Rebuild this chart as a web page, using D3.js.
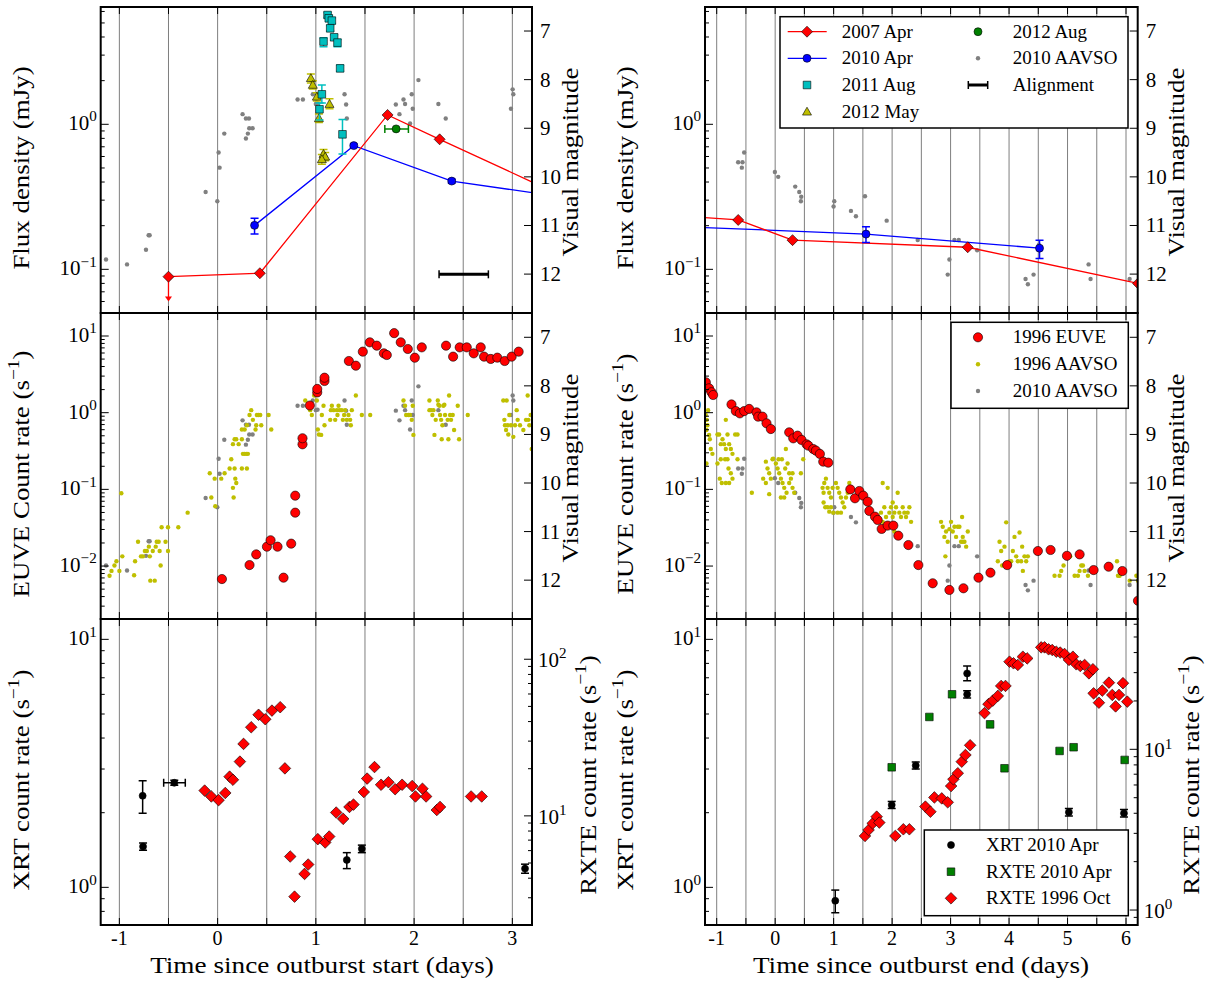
<!DOCTYPE html>
<html><head><meta charset="utf-8">
<script src="https://cdn.jsdelivr.net/npm/d3@7"></script>
<style>body{margin:0;background:#fff}svg{display:block}text{font-family:"Liberation Serif","DejaVu Serif",serif}</style>
</head><body>
<script>
// ---------------- DATA ----------------
// Top-left: flux density (mJy) vs time since outburst start (days)
const apr2007Start = [[-0.50,0.089],[0.43,0.094],[1.73,1.16],[2.26,0.788],[3.60,0.300]];
const apr2007StartLimit = [[-0.50,0.089,0.060]];
const apr2010Start = [[0.376,0.201,0.175,0.225],[1.386,0.713,0.695,0.732],[2.383,0.406,0.394,0.418],[4.50,0.252,0.252,0.252]];
const aug2011Start = [[1.119,5.67,5.45,5.9],[1.132,5.38,5.15,5.6],[1.163,5.19,4.95,5.4],[1.146,4.59,4.4,4.8],[1.186,3.98,3.8,4.15],[1.220,3.66,3.43,3.85],[1.078,3.72,3.43,3.95],[1.247,2.43,2.32,2.55],[1.061,1.61,1.40,1.87],[1.037,1.27,1.07,1.40],[1.271,0.853,0.624,1.08]];
const may2012Start = [[0.949,2.08,1.93,2.22],[0.969,1.87,1.75,2.0],[1.010,1.55,1.45,1.65],[1.139,1.38,1.28,1.50],[1.031,1.10,1.03,1.18],[1.078,0.624,0.58,0.67],[1.095,0.598,0.56,0.64],[1.061,0.574,0.53,0.62]];
const aug2012Start = [[1.817,0.93,1.702,1.942]];
const alignmentBar = [[2.254,2.756,0.0924]];
const aavso2010Start = [[-1.136,11.70],[-0.922,11.80],[-0.729,11.50],[-0.702,11.20],[-0.692,11.20],[-0.122,10.31],[-0.003,10.50],[0.010,9.50],[0.020,9.81],[0.068,9.11],[0.254,8.71],[0.288,8.80],[0.319,8.80],[0.288,9.21],[0.308,9.11],[0.322,9.00],[0.356,9.00],[0.814,8.41],[0.868,8.41],[0.969,8.30],[1.000,8.50],[1.017,8.49],[1.292,8.30],[1.308,8.51],[1.315,8.80],[1.814,8.51],[1.851,8.71],[1.892,8.41],[1.908,8.50],[1.959,8.90],[1.976,8.30],[1.986,8.60],[2.044,8.01],[2.247,8.50],[2.322,8.80],[2.986,8.60],[3.003,8.20],[3.010,8.30]];

// Top-right: flux density vs time since outburst end
const apr2007End = [[-1.60,0.233],[-0.632,0.219],[0.297,0.159],[3.293,0.142],[6.205,0.080]];
const apr2010End = [[-2.00,0.200,0.200,0.200],[1.553,0.175,0.153,0.197],[4.521,0.140,0.119,0.159]];
const aavso2010End = [[-0.633,9.70],[-0.559,9.70],[-0.530,9.50],[-0.570,9.81],[-0.005,9.90],[0.052,10.00],[0.343,10.20],[0.412,10.31],[0.446,10.41],[0.440,10.50],[1.011,10.50],[0.999,10.61],[1.296,10.70],[1.381,10.81],[1.536,10.40],[1.907,10.90],[2.438,11.30],[3.066,11.30],[3.140,11.30],[3.454,11.51],[2.980,11.70],[2.951,12.01],[4.282,12.10],[4.322,12.21],[4.419,12.01],[4.510,11.40],[5.360,11.80],[5.394,12.10],[6.062,12.10]];

// Middle-left: EUVE count rate (s^-1) and 1996 AAVSO (mag)
const euve1996Start = [[0.044,0.00677],[0.325,0.0103],[0.393,0.0142],[0.502,0.0179],[0.539,0.0217],[0.610,0.0179],[0.671,0.00706],[0.749,0.0196],[0.790,0.0497],[0.790,0.0828],[0.864,0.387],[0.864,0.464],[0.939,1.24],[1.014,1.84],[1.014,2.04],[1.088,2.59],[1.088,2.86],[1.336,4.72],[1.407,4.10],[1.478,6.25],[1.549,8.27],[1.620,7.48],[1.692,5.94],[1.722,5.65],[1.797,10.9],[1.864,8.27],[1.936,6.77],[2.007,5.21],[2.078,7.11],[2.325,7.48],[2.397,5.38],[2.464,7.11],[2.536,7.11],[2.607,5.94],[2.678,7.11],[2.712,5.38],[2.780,5.02],[2.847,5.22],[2.922,4.72],[2.993,5.38],[3.064,6.25]];
const aavso1996Start = [[-1.10,11.91],[-1.08,11.81],[-1.05,11.70],[-1.03,11.61],[-1.00,11.81],[-0.98,10.21],[-0.97,11.51],[-0.85,11.90],[-0.84,11.61],[-0.81,11.21],[-0.78,11.51],[-0.76,11.51],[-0.74,11.40],[-0.72,11.40],[-0.70,11.31],[-0.685,12.01],[-0.64,12.01],[-0.69,11.51],[-0.66,11.40],[-0.63,11.31],[-0.62,11.21],[-0.60,11.21],[-0.59,11.40],[-0.58,11.70],[-0.57,10.91],[-0.53,11.21],[-0.505,10.91],[-0.505,11.40],[-0.40,10.91],[-0.305,10.61],[-0.08,9.80],[-0.064,10.30],[-0.03,9.91],[-0.024,10.48],[0.037,9.91],[0.071,9.80],[0.122,9.70],[0.139,9.51],[0.156,10.10],[0.163,10.30],[0.173,9.70],[0.18,9.91],[0.19,10.00],[0.156,9.20],[0.173,9.10],[0.19,9.10],[0.214,9.20],[0.247,9.10],[0.247,9.70],[0.258,9.40],[0.275,9.40],[0.292,9.40],[0.298,9.70],[0.308,9.40],[0.247,8.90],[0.275,8.90],[0.298,8.81],[0.325,8.60],[0.342,8.50],[0.359,8.70],[0.386,8.90],[0.40,8.60],[0.417,8.60],[0.434,8.60],[0.444,8.81],[0.393,8.81],[0.519,8.60],[0.546,8.90],[0.892,8.30],[0.942,8.50],[0.959,8.60],[0.983,8.20],[1.010,8.30],[1.020,8.90],[1.031,9.00],[1.054,9.01],[1.061,8.60],[1.078,8.41],[1.088,8.81],[1.146,8.70],[1.153,8.50],[1.163,8.41],[1.180,8.50],[1.197,8.70],[1.214,8.50],[1.220,8.60],[1.231,8.41],[1.241,8.50],[1.264,8.50],[1.275,8.70],[1.288,8.60],[1.298,8.50],[1.315,8.70],[1.332,8.60],[1.349,8.70],[1.356,8.81],[1.366,8.50],[1.407,8.20],[1.468,8.60],[1.553,8.60],[1.892,8.30],[1.908,8.41],[1.919,8.60],[1.942,8.60],[1.959,8.60],[1.976,8.70],[1.993,9.01],[1.986,8.41],[2.156,8.30],[2.156,8.50],[2.173,8.50],[2.186,8.60],[2.197,8.50],[2.207,9.01],[2.220,8.70],[2.241,8.30],[2.247,8.39],[2.258,8.41],[2.264,8.60],[2.275,8.70],[2.288,8.81],[2.298,8.41],[2.308,8.39],[2.315,8.60],[2.281,9.10],[2.349,9.10],[2.342,8.70],[2.356,8.20],[2.366,8.60],[2.376,8.70],[2.393,8.60],[2.407,8.91],[2.444,8.41],[2.458,9.10],[2.546,8.60],[2.908,8.30],[2.919,8.70],[2.925,8.81],[2.936,8.91],[2.942,8.30],[2.953,8.81],[2.959,9.00],[2.969,8.60],[2.986,8.81],[3.010,9.05],[3.027,8.81],[3.044,8.50],[3.054,8.70],[3.078,8.81],[3.112,8.91],[3.139,8.70],[3.156,8.20],[3.163,8.70],[3.173,8.81],[3.186,8.60],[3.197,9.30]];

// Middle-right: EUVE and 1996 AAVSO vs time since outburst end
const euve1996End = [[-1.186,2.49],[-1.130,2.08],[-1.090,1.85],[-1.061,1.70],[-0.747,1.28],[-0.673,1.05],[-0.604,0.98],[-0.530,1.05],[-0.445,1.12],[-0.319,1.01],[-0.291,0.888],[-0.216,0.888],[-0.148,0.727],[-0.074,0.612],[0.240,0.554],[0.309,0.463],[0.383,0.502],[0.451,0.441],[0.537,0.387],[0.566,0.372],[0.651,0.336],[0.697,0.320],[0.765,0.290],[0.822,0.230],[0.908,0.223],[1.285,0.100],[1.365,0.0765],[1.439,0.0953],[1.507,0.0828],[1.582,0.0691],[1.610,0.0523],[1.707,0.0441],[1.753,0.0399],[1.821,0.0305],[1.924,0.0337],[2.021,0.0337],[2.106,0.0249],[2.278,0.0188],[2.449,0.0103],[2.694,0.00596],[2.980,0.00488],[3.220,0.00513],[3.477,0.00706],[3.682,0.00820],[3.968,0.0103],[4.493,0.0157],[4.710,0.0162],[4.990,0.0136],[5.207,0.0142],[5.446,0.00887],[5.703,0.00981],[5.937,0.00861],[6.205,0.00353]];
const aavso1996End = [[-1.187,8.60],[-1.170,8.70],[-1.158,8.81],[-1.147,8.50],[-1.175,8.91],[-1.130,9.01],[-1.118,9.10],[-1.101,9.30],[-1.175,9.60],[-1.073,9.40],[-0.987,9.00],[-0.958,9.00],[-0.930,9.20],[-0.901,9.10],[-0.873,9.20],[-0.844,9.30],[-0.815,9.00],[-0.787,9.20],[-0.758,9.30],[-0.730,9.40],[-0.815,9.51],[-0.856,9.51],[-0.930,9.51],[-0.987,9.60],[-0.947,9.91],[-0.913,10.00],[-0.844,10.00],[-0.787,10.00],[-0.798,9.70],[-0.758,9.80],[-0.730,9.91],[-0.684,9.00],[-0.644,9.00],[-0.644,9.51],[-0.844,8.70],[-0.399,10.20],[-0.159,9.56],[-0.131,9.70],[-0.102,9.80],[-0.074,9.91],[-0.045,9.51],[0.012,9.60],[0.041,9.70],[0.069,9.80],[0.098,9.91],[0.126,10.00],[0.155,10.10],[0.183,9.30],[0.212,9.60],[0.240,9.80],[0.269,9.91],[0.297,10.10],[0.326,10.20],[0.098,10.30],[0.155,10.30],[0.195,10.20],[-0.205,9.91],[-0.159,10.00],[-0.102,10.23],[-0.034,9.50],[0.057,9.51],[0.115,9.51],[0.172,9.70],[0.240,10.00],[0.297,9.80],[0.440,9.80],[0.480,9.51],[0.811,10.10],[0.828,10.20],[0.840,10.00],[0.897,10.10],[0.925,10.20],[0.954,10.30],[0.982,10.10],[0.828,10.40],[0.857,10.50],[0.897,10.50],[0.925,10.59],[0.954,10.50],[0.994,10.61],[1.039,10.00],[1.068,10.10],[1.096,10.20],[1.125,10.30],[1.154,10.40],[1.182,10.50],[1.211,10.30],[1.240,10.20],[1.268,10.00],[1.325,10.30],[1.068,10.61],[1.125,10.61],[0.868,9.91],[1.810,10.61],[1.839,10.00],[1.867,10.50],[1.896,10.70],[1.924,10.10],[1.953,10.61],[1.981,10.50],[2.010,10.40],[2.038,10.61],[2.067,10.50],[2.095,10.20],[2.124,10.61],[2.152,10.70],[2.181,10.50],[2.209,10.61],[2.238,10.70],[2.266,10.61],[2.295,10.50],[2.324,10.80],[1.839,10.80],[1.884,10.90],[1.941,10.90],[2.010,10.70],[2.038,11.00],[2.124,11.09],[2.837,10.80],[2.866,10.90],[2.894,11.11],[2.923,11.00],[2.951,11.21],[2.980,10.95],[3.008,10.80],[3.037,11.00],[3.066,10.90],[3.094,11.11],[3.123,10.90],[3.151,10.90],[3.180,11.21],[3.208,11.11],[3.237,11.21],[3.266,11.31],[3.294,11.00],[2.911,11.51],[3.197,10.70],[3.208,11.21],[3.808,11.61],[3.837,11.21],[3.865,11.40],[3.882,11.70],[3.922,11.31],[3.951,10.81],[4.008,11.61],[4.036,11.61],[4.065,11.40],[4.093,11.11],[4.122,11.51],[4.179,11.02],[4.207,11.61],[4.224,11.31],[4.236,11.81],[4.264,11.51],[4.293,11.61],[4.321,11.51],[4.150,11.61],[4.778,11.91],[4.864,11.91],[4.892,11.81],[4.932,11.70],[4.978,11.51],[5.046,11.51],[5.121,11.91],[5.178,11.91],[5.206,11.81],[5.235,11.70],[5.263,11.70],[5.292,11.81],[5.349,11.91],[5.846,11.61],[5.863,11.91],[5.891,11.91],[6.063,12.01],[6.177,11.91],[6.205,12.01]];

// Bottom-left: XRT (left axis) and RXTE 1996 Oct (right axis)
const xrt2010Start = [[-0.763,2.34,1.99,2.69],[-0.759,1.46,1.41,1.51],[-0.441,2.64,2.58,2.70],[1.315,1.29,1.19,1.38],[1.468,1.43,1.38,1.48],[3.129,1.19,1.14,1.24]];
const xrt2010StartXerr = [[-0.441,2.64,-0.549,-0.329]];
const rxte1996Start = [[-0.132,14.5],[-0.064,13.3],[0.010,12.6],[0.078,14.0],[0.122,17.8],[0.156,17.0],[0.227,22.2],[0.264,28.8],[0.342,36.8],[0.417,44.2],[0.485,41.4],[0.553,47.0],[0.637,49.4],[0.685,20.1],[0.739,5.50],[0.783,3.05],[0.885,4.26],[0.922,4.89],[1.020,7.10],[1.095,6.76],[1.136,7.38],[1.207,10.5],[1.278,9.57],[1.342,11.4],[1.383,11.8],[1.488,14.2],[1.522,17.3],[1.597,20.5],[1.664,15.8],[1.739,16.4],[1.807,14.8],[1.878,15.8],[1.980,15.5],[2.014,13.3],[2.085,14.9],[2.122,13.3],[2.231,10.9],[2.264,11.4],[2.580,13.3],[2.688,13.3]];

// Bottom-right: XRT, RXTE 2010 Apr, RXTE 1996 Oct vs time since outburst end
const xrt2010End = [[1.028,0.883,0.79,0.975],[1.993,2.15,2.08,2.22],[2.404,3.10,3.00,3.20],[3.283,7.29,6.81,7.80],[3.283,6.00,5.80,6.20],[5.023,2.01,1.94,2.08],[5.965,1.99,1.92,2.06]];
const rxte2010End = [[1.993,7.73],[3.025,22.0],[2.637,15.9],[3.676,14.3],[3.922,7.62],[4.864,9.77],[5.104,10.3],[5.977,8.59]];
const rxte1996End = [[1.536,2.89],[1.598,3.15],[1.667,3.46],[1.736,3.81],[1.781,3.50],[2.055,2.89],[2.192,3.18],[2.295,3.18],[2.569,4.40],[2.655,4.09],[2.723,5.02],[2.849,4.95],[2.951,4.68],[3.009,5.91],[3.048,6.51],[3.123,7.10],[3.191,8.38],[3.254,9.22],[3.334,10.6],[3.580,16.8],[3.648,19.1],[3.722,20.1],[3.808,21.5],[3.865,24.8],[3.939,24.8],[4.008,35.1],[4.076,34.3],[4.150,33.5],[4.236,37.7],[4.310,36.8],[4.550,43.1],[4.607,43.1],[4.676,41.9],[4.738,41.5],[4.807,40.5],[4.875,40.0],[4.949,39.2],[5.024,36.0],[5.092,37.7],[5.149,33.8],[5.218,33.0],[5.292,33.5],[5.366,29.7],[5.434,31.5],[5.446,22.3],[5.537,19.5],[5.594,23.2],[5.708,26.0],[5.765,21.8],[5.822,18.5],[5.880,21.8],[5.948,25.8],[6.022,19.8]];

// Tick values
const xTicksStart = [-1,0,1,2,3];
const xTicksEnd = [-1,0,1,2,3,4,5,6];
const magTicks = [7,8,9,10,11,12];

// ---------------- DRAWING ----------------
const FONT = "Liberation Serif, DejaVu Serif, serif";
const svg = d3.select("body").append("svg").attr("width",1210).attr("height",987);

const colL = {x0:100.7,x1:532,dom:[-1.19,3.2]};
const colR = {x0:705,x1:1137.7,dom:[-1.2,6.2]};
const rows = [{y0:7,y1:313},{y0:313,y1:619},{y0:619,y1:925}];

function addText(parent,x,y,parts,o){
  o=o||{};
  const size=o.size||22;
  const t=parent.append("text")
    .attr("transform",`translate(${x},${y}) rotate(${o.rot||0}) scale(${o.sx||1},1)`)
    .attr("text-anchor",o.anchor||"middle")
    .attr("font-family",FONT)
    .attr("font-size",size).attr("fill","#000");
  let raised=false;
  parts.forEach(p=>{
    const isSup=Array.isArray(p);
    const s=t.append("tspan").text(isSup?p[0]:p);
    if(isSup){ s.attr("font-size",size*0.72).attr("dy",-size*0.42); raised=true; }
    else if(raised){ s.attr("dy",size*0.42); raised=false; }
  });
  return t;
}

function panel(col,row,ldom,rdom,rtype,id){
  const x=d3.scaleLinear().domain(col.dom).range([col.x0,col.x1]);
  const yl=d3.scaleLog().domain(ldom).range([row.y1,row.y0]);
  const yr= rtype==="mag" ? d3.scaleLinear().domain(rdom).range([row.y0,row.y1])
                          : d3.scaleLog().domain(rdom).range([row.y1,row.y0]);
  svg.append("clipPath").attr("id","clip-"+id).append("rect")
    .attr("x",col.x0).attr("y",row.y0).attr("width",col.x1-col.x0).attr("height",row.y1-row.y0);
  const g=svg.append("g");
  const plot=g.append("g").attr("clip-path",`url(#clip-${id})`);
  const grid=d3.range(Math.ceil(col.dom[0]*2)/2,col.dom[1]+1e-9,0.5);
  plot.append("g").selectAll("line").data(grid).join("line")
    .attr("x1",d=>x(d)).attr("x2",d=>x(d)).attr("y1",row.y0).attr("y2",row.y1)
    .attr("stroke","#7f7f7f").attr("stroke-width",1);
  return {x,yl,yr,g,plot,col,row,ldom,rdom,rtype};
}

function logTicks(dom){
  const out=[];
  for(let k=Math.floor(Math.log10(dom[0]));k<=Math.ceil(Math.log10(dom[1]));k++){
    for(let m=1;m<=9;m++){const v=m*Math.pow(10,k); if(v>=dom[0]&&v<=dom[1]) out.push({v,major:m===1,k});}
  }
  return out;
}

function finish(p){
  const {x,yl,yr,g,col,row}=p;
  const ax=g.append("g");
  const xt=d3.range(Math.ceil(col.dom[0]*2)/2,col.dom[1]+1e-9,0.5);
  xt.forEach(v=>{
    ax.append("line").attr("x1",x(v)).attr("x2",x(v)).attr("y1",row.y0).attr("y2",row.y0+7).attr("stroke","#000").attr("stroke-width",1);
    ax.append("line").attr("x1",x(v)).attr("x2",x(v)).attr("y1",row.y1).attr("y2",row.y1-7).attr("stroke","#000").attr("stroke-width",1);
  });
  logTicks(p.ldom).forEach(t=>{
    const yy=yl(t.v);
    ax.append("line").attr("x1",col.x0).attr("x2",col.x0+(t.major?8:4)).attr("y1",yy).attr("y2",yy).attr("stroke","#000").attr("stroke-width",1);
    if(t.major) addText(ax,col.x0-4,yy+6,["10",[t.k<0?"\u2212"+(-t.k):String(t.k)]],{anchor:"end",size:21});
  });
  if(p.rtype==="mag"){
    magTicks.forEach(m=>{
      const yy=yr(m);
      ax.append("line").attr("x1",col.x1).attr("x2",col.x1-8).attr("y1",yy).attr("y2",yy).attr("stroke","#000").attr("stroke-width",1);
      addText(ax,col.x1+8,yy+7,[String(m)],{anchor:"start",size:21});
    });
  } else {
    logTicks(p.rdom).forEach(t=>{
      const yy=yr(t.v);
      ax.append("line").attr("x1",col.x1).attr("x2",col.x1-(t.major?8:4)).attr("y1",yy).attr("y2",yy).attr("stroke","#000").attr("stroke-width",1);
      if(t.major) addText(ax,col.x1+6,yy+8,["10",[String(t.k)]],{anchor:"start",size:21});
    });
  }
  ax.append("rect").attr("x",col.x0).attr("y",row.y0).attr("width",col.x1-col.x0).attr("height",row.y1-row.y0)
    .attr("fill","none").attr("stroke","#000").attr("stroke-width",2);
}

// mark helpers
const diamondPath=s=>`M0,${-s}L${s},0L0,${s}L${-s},0Z`;
const triPath=s=>`M0,${-s}L${s},${s*0.75}L${-s},${s*0.75}Z`;
const squarePath=s=>`M${-s},${-s}H${s}V${s}H${-s}Z`;
function lineSeries(p,data,y,color){
  p.plot.append("path").datum(data).attr("d",d3.line().x(d=>p.x(d[0])).y(d=>y(d[1])))
    .attr("fill","none").attr("stroke",color).attr("stroke-width",1.3);
}
function vErr(p,data,y,color,cap,w){
  const g=p.plot.append("g").attr("stroke",color).attr("stroke-width",w||1.5);
  data.forEach(d=>{
    const X=p.x(d[0]);
    g.append("line").attr("x1",X).attr("x2",X).attr("y1",y(d[2])).attr("y2",y(d[3]));
    [d[2],d[3]].forEach(v=>g.append("line").attr("x1",X-cap).attr("x2",X+cap).attr("y1",y(v)).attr("y2",y(v)));
  });
}
function hErr(p,data,y,color,cap,w){
  const g=p.plot.append("g").attr("stroke",color).attr("stroke-width",w||1.5);
  data.forEach(d=>{
    const Y=y(d[1]);
    g.append("line").attr("x1",p.x(d[2])).attr("x2",p.x(d[3])).attr("y1",Y).attr("y2",Y);
    [d[2],d[3]].forEach(v=>g.append("line").attr("x1",p.x(v)).attr("x2",p.x(v)).attr("y1",Y-cap).attr("y2",Y+cap));
  });
}
function dots(p,data,y,r,color){
  p.plot.append("g").selectAll("circle").data(data).join("circle")
    .attr("cx",d=>p.x(d[0])).attr("cy",d=>y(d[1])).attr("r",r).attr("fill",color);
}
function circles(p,data,y,r,fill){
  p.plot.append("g").selectAll("circle").data(data).join("circle")
    .attr("cx",d=>p.x(d[0])).attr("cy",d=>y(d[1])).attr("r",r).attr("fill",fill)
    .attr("stroke","#000").attr("stroke-width",0.6);
}
function shapes(p,data,y,pathStr,fill){
  p.plot.append("g").selectAll("path").data(data).join("path")
    .attr("transform",d=>`translate(${p.x(d[0])},${y(d[1])})`).attr("d",pathStr)
    .attr("fill",fill).attr("stroke","#000").attr("stroke-width",0.6);
}

const RED="#ff0000",BLUE="#0000ff",CYAN="#00bfbf",YEL="#bfbf00",GRN="#008000",GRAY="#808080";

// ---- Top-left ----
const tl=panel(colL,rows[0],[0.05,6.44],[6.506,12.80],"mag","tl");
dots(tl,aavso2010Start,tl.yr,2.2,GRAY);
lineSeries(tl,apr2010Start,tl.yl,BLUE);
lineSeries(tl,apr2007Start,tl.yl,RED);
vErr(tl,apr2010Start,tl.yl,BLUE,4);
circles(tl,apr2010Start,tl.yl,4,BLUE);
apr2007StartLimit.forEach(d=>{
  const X=tl.x(d[0]);
  tl.plot.append("line").attr("x1",X).attr("x2",X).attr("y1",tl.yl(d[1])).attr("y2",tl.yl(d[2])-4).attr("stroke",RED).attr("stroke-width",1.3);
  tl.plot.append("path").attr("d",`M${X-3.5},${tl.yl(d[2])-5}L${X+3.5},${tl.yl(d[2])-5}L${X},${tl.yl(d[2])}Z`).attr("fill",RED);
});
shapes(tl,apr2007Start,tl.yl,diamondPath(5.5),RED);
vErr(tl,may2012Start,tl.yl,YEL,4);
shapes(tl,may2012Start,tl.yl,triPath(4.5),YEL);
vErr(tl,aug2011Start,tl.yl,CYAN,4);
shapes(tl,aug2011Start,tl.yl,squarePath(3.8),CYAN);
hErr(tl,aug2012Start,tl.yl,GRN,4);
circles(tl,aug2012Start,tl.yl,4,GRN);
alignmentBar.forEach(d=>{
  const Y=tl.yl(d[2]);
  tl.plot.append("line").attr("x1",tl.x(d[0])).attr("x2",tl.x(d[1])).attr("y1",Y).attr("y2",Y).attr("stroke","#000").attr("stroke-width",3);
  [d[0],d[1]].forEach(v=>tl.plot.append("line").attr("x1",tl.x(v)).attr("x2",tl.x(v)).attr("y1",Y-4).attr("y2",Y+4).attr("stroke","#000").attr("stroke-width",1.5));
});
finish(tl);

// ---- Top-right ----
const tr=panel(colR,rows[0],[0.05,6.44],[6.506,12.80],"mag","tr");
dots(tr,aavso2010End,tr.yr,2.2,GRAY);
lineSeries(tr,apr2010End,tr.yl,BLUE);
lineSeries(tr,apr2007End,tr.yl,RED);
vErr(tr,apr2010End,tr.yl,BLUE,4);
circles(tr,apr2010End,tr.yl,4,BLUE);
shapes(tr,apr2007End,tr.yl,diamondPath(5.5),RED);
finish(tr);

// ---- Middle-left ----
const ml=panel(colL,rows[1],[0.00204,19.95],[6.5,12.8],"mag","ml");
dots(ml,aavso2010Start,ml.yr,2.2,GRAY);
dots(ml,aavso1996Start,ml.yr,2.2,YEL);
circles(ml,euve1996Start,ml.yl,4.6,RED);
finish(ml);

// ---- Middle-right ----
const mr=panel(colR,rows[1],[0.00204,19.95],[6.5,12.8],"mag","mr");
dots(mr,aavso2010End,mr.yr,2.2,GRAY);
dots(mr,aavso1996End,mr.yr,2.2,YEL);
circles(mr,euve1996End,mr.yl,4.6,RED);
finish(mr);

// ---- Bottom-left ----
const bl=panel(colL,rows[2],[0.705,12.08],[2.01,180.7],"log","bl");
shapes(bl,rxte1996Start,bl.yr,diamondPath(5.8),RED);
vErr(bl,xrt2010Start,bl.yl,"#000",4);
hErr(bl,xrt2010StartXerr,bl.yl,"#000",4);
circles(bl,xrt2010Start,bl.yl,3.5,"#000");
finish(bl);

// ---- Bottom-right ----
const br=panel(colR,rows[2],[0.705,12.08],[0.807,64.7],"log","br");
shapes(br,rxte1996End,br.yr,diamondPath(5.8),RED);
shapes(br,rxte2010End,br.yr,squarePath(3.8),GRN);
vErr(br,xrt2010End,br.yl,"#000",4);
circles(br,xrt2010End,br.yl,3.5,"#000");
finish(br);

// ---- Axis labels ----
const SX=1.17;
addText(svg,29,168,["Flux density (mJy)"],{rot:-90,sx:SX,size:23});
addText(svg,29,474,["EUVE Count rate (s",["\u22121"],")"],{rot:-90,sx:SX,size:23});
addText(svg,29,780,["XRT count rate (s",["\u22121"],")"],{rot:-90,sx:SX,size:23});
addText(svg,633,168,["Flux density (mJy)"],{rot:-90,sx:SX,size:23});
addText(svg,633,474,["EUVE count rate (s",["\u22121"],")"],{rot:-90,sx:SX,size:23});
addText(svg,633,780,["XRT count rate (s",["\u22121"],")"],{rot:-90,sx:SX,size:23});
addText(svg,578,162,["Visual magnitude"],{rot:-90,sx:SX,size:23});
addText(svg,578,468,["Visual magnitude"],{rot:-90,sx:SX,size:23});
addText(svg,596,775,["RXTE count rate (s",["\u22121"],")"],{rot:-90,sx:SX,size:23});
addText(svg,1184,162,["Visual magnitude"],{rot:-90,sx:SX,size:23});
addText(svg,1184,468,["Visual magnitude"],{rot:-90,sx:SX,size:23});
addText(svg,1199,775,["RXTE count rate (s",["\u22121"],")"],{rot:-90,sx:SX,size:23});

// x tick labels and titles
xTicksStart.forEach(v=>addText(svg,bl.x(v),945,[v<0?"-"+(-v):String(v)],{size:20}));
xTicksEnd.forEach(v=>addText(svg,br.x(v),945,[v<0?"-"+(-v):String(v)],{size:20}));
addText(svg,322,973,["Time since outburst start (days)"],{sx:1.21,size:22.5});
addText(svg,921,973,["Time since outburst end (days)"],{sx:1.21,size:22.5});

// ---- Legends ----
function legendBox(x0,y0,x1,y1){
  svg.append("rect").attr("x",x0).attr("y",y0).attr("width",x1-x0).attr("height",y1-y0)
    .attr("fill","#fff").attr("stroke","#000").attr("stroke-width",1.5);
}
function legText(x,y,s){addText(svg,x,y+6,[s],{anchor:"start",size:19});}
function legShape(x,y,pathStr,fill){svg.append("path").attr("transform",`translate(${x},${y})`).attr("d",pathStr).attr("fill",fill).attr("stroke","#000").attr("stroke-width",0.6);}
function legCircle(x,y,r,fill,stroke){svg.append("circle").attr("cx",x).attr("cy",y).attr("r",r).attr("fill",fill).attr("stroke",stroke?"#000":"none").attr("stroke-width",0.6);}

legendBox(780,16.7,1128,128);
svg.append("line").attr("x1",787.7).attr("x2",826.7).attr("y1",31.7).attr("y2",31.7).attr("stroke",RED).attr("stroke-width",1.3);
legShape(807,31.7,diamondPath(5.5),RED); legText(841.7,31.7,"2007 Apr");
svg.append("line").attr("x1",787.7).attr("x2",826.7).attr("y1",58.3).attr("y2",58.3).attr("stroke",BLUE).attr("stroke-width",1.3);
legCircle(807,58.3,4,BLUE,true); legText(841.7,58.3,"2010 Apr");
legShape(807,85,squarePath(3.8),CYAN); legText(841.7,85,"2011 Aug");
legShape(807,111.7,triPath(4.5),YEL); legText(841.7,111.7,"2012 May");
legCircle(978,31.7,4,GRN,true); legText(1012.7,31.7,"2012 Aug");
legCircle(978,58.3,2.2,GRAY,false); legText(1012.7,58.3,"2010 AAVSO");
svg.append("line").attr("x1",968.3).attr("x2",987.7).attr("y1",85).attr("y2",85).attr("stroke","#000").attr("stroke-width",3);
[968.3,987.7].forEach(v=>svg.append("line").attr("x1",v).attr("x2",v).attr("y1",81).attr("y2",89).attr("stroke","#000").attr("stroke-width",1.5));
legText(1012.7,85,"Alignment");

legendBox(951,322.3,1128.3,408.3);
legCircle(978,337.3,4.6,RED,true); legText(1012.7,337.3,"1996 EUVE");
legCircle(978,364.3,2.2,YEL,false); legText(1012.7,364.3,"1996 AAVSO");
legCircle(978,391,2.2,GRAY,false); legText(1012.7,391,"2010 AAVSO");

legendBox(924.3,830,1128.3,915.7);
legCircle(951,845,3.5,"#000",true); legText(986,845,"XRT 2010 Apr");
legShape(951,871.7,squarePath(3.8),GRN); legText(986,871.7,"RXTE 2010 Apr");
legShape(951,898.3,diamondPath(5.8),RED); legText(986,898.3,"RXTE 1996 Oct");
</script>
</body></html>
